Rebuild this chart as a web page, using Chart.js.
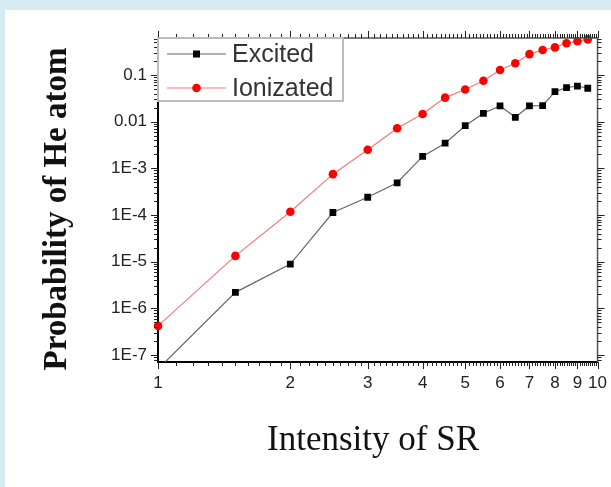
<!DOCTYPE html>
<html lang="en">
  <head>
    <meta charset="UTF-8" />
    <title>Probability of He atom</title>
    <script src="https://cdn.jsdelivr.net/npm/chart.js"></script>
    <style>
      body {
        margin: 0;
        width: 611px;
        height: 487px;
        overflow: hidden;
        background: #d6ebf1;
      }
      #panel {
        position: absolute;
        left: 5px;
        top: 10px;
        width: 606px;
        height: 477px;
        overflow: hidden;
        background: #ffffff;
      }
    </style>
  </head>
  <body>
    <div id="panel"><canvas id="chart" width="613" height="477"></canvas></div>

    <script>
      // intensity of SR (x) and probabilities
      const intensity = [1, 1.5, 2, 2.5, 3, 3.5, 4, 4.5, 5, 5.5, 6, 6.5, 7, 7.5, 8, 8.5, 9, 9.5]
      const excited = [5.0e-8, 2.2e-6, 8.9e-6, 1.13e-4, 2.4e-4, 4.9e-4, 1.8e-3, 3.45e-3, 8.2e-3,
        0.0151, 0.0217, 0.0124, 0.0217, 0.022, 0.0439, 0.0535, 0.058, 0.052]
      const ionizated = [4.2e-7, 1.33e-5, 1.17e-4, 7.5e-4, 2.5e-3, 7.2e-3, 0.0146, 0.0327, 0.049,
        0.0755, 0.128, 0.178, 0.28, 0.343, 0.39, 0.48, 0.53, 0.58]

      const seriesNames = ['Excited', 'Ionizated']

      const xTickValues = [1, 2, 3, 4, 5, 6, 7, 8, 9, 10]
      const xTickLabels = ['1', '2', '3', '4', '5', '6', '7', '8', '9', '10']
      const yTickValues = [1e-7, 1e-6, 1e-5, 1e-4, 1e-3, 0.01, 0.1]
      const yTickLabels = ['1E-7', '1E-6', '1E-5', '1E-4', '1E-3', '0.01', '0.1']

      const xMin = 1, xMax = 10
      const yMin = 7.08e-8, yMax = 0.62

      const tickFont = { family: '"Liberation Sans", Arial, sans-serif', size: 17 }
      const titleFamily = '"Liberation Serif", "Times New Roman", serif'

      function findIndex(list, v) {
        return list.findIndex(t => Math.abs(t - v) / t < 1e-6)
      }

      function xTicks() {
        const out = []
        for (let i = 10; i <= 100; i++) {
          out.push({ value: i / 10, major: i % 10 === 0 })
        }
        return out
      }

      function yTicks() {
        const out = []
        for (let e = -8; e <= 0; e++) {
          for (let k = 1; k <= 9; k++) {
            const v = parseFloat((k * Math.pow(10, e)).toPrecision(3))
            if (v >= yMin && v <= yMax) out.push({ value: v, major: k === 1 })
          }
        }
        return out
      }

      // outward tick marks on all four sides plus the top/right frame
      const frameTicks = {
        id: 'frameTicks',
        afterDraw(chart) {
          const { ctx, chartArea: a, scales } = chart
          ctx.save()
          ctx.strokeStyle = '#555'
          ctx.lineWidth = 1.5
          ctx.beginPath()
          ctx.moveTo(a.left, a.top)
          ctx.lineTo(a.right, a.top)
          ctx.lineTo(a.right, a.bottom)
          ctx.stroke()

          ctx.lineWidth = 1
          ctx.strokeStyle = '#222'
          ctx.beginPath()
          scales.x.ticks.forEach(t => {
            const px = Math.round(scales.x.getPixelForValue(t.value)) + 0.5
            const len = t.major ? 7 : 4
            ctx.moveTo(px, a.bottom)
            ctx.lineTo(px, a.bottom + len)
            ctx.moveTo(px, a.top)
            ctx.lineTo(px, a.top - len)
          })
          scales.y.ticks.forEach(t => {
            const py = Math.round(scales.y.getPixelForValue(t.value)) + 0.5
            const len = t.major ? 7 : 4
            ctx.moveTo(a.left, py)
            ctx.lineTo(a.left - len, py)
            ctx.moveTo(a.right, py)
            ctx.lineTo(a.right + len, py)
          })
          ctx.stroke()
          ctx.restore()
        }
      }

      // boxed legend in the top-left corner of the plot
      const innerLegend = {
        id: 'innerLegend',
        afterDraw(chart) {
          const { ctx, chartArea: a } = chart
          const x0 = a.left, y0 = a.top
          ctx.save()
          ctx.fillStyle = '#fff'
          ctx.fillRect(x0, y0, 185, 63)
          ctx.strokeStyle = '#bbb'
          ctx.lineWidth = 2
          ctx.strokeRect(x0, y0, 185, 63)

          chart.data.datasets.forEach((ds, i) => {
            const cy = y0 + 16 + i * 34
            ctx.strokeStyle = ds.borderColor
            ctx.lineWidth = ds.borderWidth
            ctx.beginPath()
            ctx.moveTo(x0 + 9, cy)
            ctx.lineTo(x0 + 68, cy)
            ctx.stroke()
            ctx.fillStyle = ds.pointBackgroundColor
            if (ds.pointStyle === 'rect') {
              ctx.fillRect(x0 + 35, cy - 3.5, 7, 7)
            } else {
              ctx.beginPath()
              ctx.arc(x0 + 38.5, cy, 4.3, 0, Math.PI * 2)
              ctx.fill()
            }
            ctx.fillStyle = '#333'
            ctx.font = '25px "Liberation Sans", Arial, sans-serif'
            ctx.textBaseline = 'middle'
            ctx.fillText(ds.label, x0 + 74, cy + 1)
          })
          ctx.restore()
        }
      }

      // axis titles placed where the reference has them
      const axisTitles = {
        id: 'axisTitles',
        afterDraw(chart) {
          const { ctx } = chart
          ctx.save()
          ctx.fillStyle = '#111'
          ctx.textAlign = 'center'
          ctx.textBaseline = 'middle'
          ctx.font = '35px ' + titleFamily
          ctx.fillText('Intensity of SR', 368, 431)
          ctx.translate(52, 199)
          ctx.rotate(-Math.PI / 2)
          ctx.font = 'bold 33px ' + titleFamily
          ctx.fillText('Probability of He atom', 0, 0)
          ctx.restore()
        }
      }

      const ctx = document.getElementById('chart').getContext('2d')
      new Chart(ctx, {
        type: 'scatter',
        data: {
          datasets: [
            {
              label: seriesNames[0],
              data: intensity.map((x, i) => ({ x: x, y: excited[i] })),
              showLine: true,
              borderColor: '#666',
              borderWidth: 1.2,
              pointStyle: 'rect',
              pointRadius: 4.8,
              pointBorderWidth: 0,
              pointBackgroundColor: '#000',
              clip: 0,
            },
            {
              label: seriesNames[1],
              data: intensity.map((x, i) => ({ x: x, y: ionizated[i] })),
              showLine: true,
              borderColor: '#f47a7a',
              borderWidth: 1.2,
              pointStyle: 'circle',
              pointRadius: 4.3,
              pointBorderWidth: 0,
              pointBackgroundColor: '#f00',
              clip: 6,
            },
          ],
        },
        options: {
          responsive: false,
          animation: false,
          layout: { padding: { left: 0, right: 0, top: 28, bottom: 0 } },
          plugins: {
            legend: { display: false },
            tooltip: { enabled: false },
          },
          scales: {
            x: {
              type: 'logarithmic',
              min: xMin,
              max: xMax,
              afterBuildTicks: scale => {
                scale.ticks = xTicks()
              },
              afterFit: scale => {
                scale.height = 125
              },
              grid: { display: true, drawOnChartArea: false, drawTicks: false },
              border: { display: true, color: '#000', width: 2 },
              ticks: {
                autoSkip: false,
                maxRotation: 0,
                padding: 11,
                color: '#222',
                font: tickFont,
                callback: value => {
                  const i = findIndex(xTickValues, value)
                  return i >= 0 ? xTickLabels[i] : ''
                },
              },
            },
            y: {
              type: 'logarithmic',
              min: yMin,
              max: yMax,
              afterBuildTicks: scale => {
                scale.ticks = yTicks()
              },
              afterFit: scale => {
                scale.width = 153
              },
              grid: { display: true, drawOnChartArea: false, drawTicks: false },
              border: { display: true, color: '#000', width: 2 },
              ticks: {
                autoSkip: false,
                padding: 11,
                color: '#222',
                font: tickFont,
                callback: value => {
                  const i = findIndex(yTickValues, value)
                  return i >= 0 ? yTickLabels[i] : ''
                },
              },
            },
          },
        },
        plugins: [frameTicks, innerLegend, axisTitles],
      })
    </script>
  </body>
</html>
